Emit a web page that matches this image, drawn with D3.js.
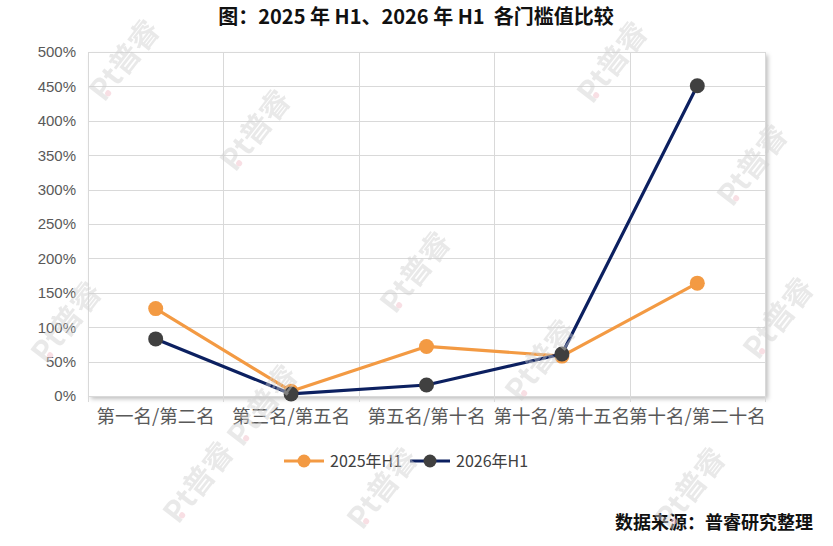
<!DOCTYPE html>
<html>
<head>
<meta charset="utf-8">
<script src="https://cdn.jsdelivr.net/npm/d3@7"></script>
<style>
  body { margin: 0; background: #fff; }
  svg { display: block; }
</style>
</head>
<body>
<svg id="chart"></svg>
<script>
const categories = ['第一名/第二名', '第三名/第五名', '第五名/第十名', '第十名/第十五名', '第十名/第二十名']
const h1_2025 = [1.27, 0.07, 0.72, 0.58, 1.64]
const h1_2026 = [0.83, 0.03, 0.16, 0.61, 4.51]
const yTicks = [0, 0.5, 1, 1.5, 2, 2.5, 3, 3.5, 4, 4.5, 5]
const seriesNames = ['2025年H1', '2026年H1']

// watermark spots (decoration only)
const marks = [[124, 60], [612, 62], [255, 130], [752, 165], [66, 322], [415, 272], [540, 360], [198, 482], [690, 488], [382, 488], [262, 405], [778, 318]]

const W = 833, H = 546
const m = { l: 88, r: 765, t: 52, b: 396 }
const cjk = '"Noto Sans CJK SC", "Noto Sans", sans-serif'

const svg = d3.select('#chart').attr('width', W).attr('height', H)

const defs = svg.append('defs')
const f = defs.append('filter').attr('id', 'sh').attr('x', '-5%').attr('y', '-5%').attr('width', '110%').attr('height', '110%')
f.append('feDropShadow').attr('dx', 3).attr('dy', 3).attr('stdDeviation', 2)
    .attr('flood-color', '#000').attr('flood-opacity', 0.25)

svg.append('rect').attr('width', W).attr('height', H).attr('fill', '#fff')

const x = d3.scaleBand().domain(categories).range([m.l, m.r]).padding(0)
const y = d3.scaleLinear().domain([0, 5]).range([m.b, m.t])

// plot area with shadow
svg.append('rect')
    .attr('x', m.l).attr('y', m.t)
    .attr('width', m.r - m.l).attr('height', m.b - m.t)
    .attr('fill', '#fff')
    .attr('filter', 'url(#sh)')

// horizontal grid
svg.append('g').selectAll('line').data(yTicks).enter()
    .append('line')
    .attr('x1', m.l).attr('x2', m.r)
    .attr('y1', d => Math.round(y(d)) + 0.5).attr('y2', d => Math.round(y(d)) + 0.5)
    .attr('stroke', '#d9d9d9').attr('stroke-width', 1)

// vertical grid at band edges
const edges = categories.map(c => x(c)).concat([m.r])
svg.append('g').selectAll('line').data(edges).enter()
    .append('line')
    .attr('x1', d => Math.round(d) + 0.5).attr('x2', d => Math.round(d) + 0.5)
    .attr('y1', m.t).attr('y2', m.b + 6)
    .attr('stroke', '#d9d9d9').attr('stroke-width', 1)

// y axis labels
const yAxis = svg.append('g')
    .attr('transform', `translate(${m.l},0)`)
    .call(d3.axisLeft(y).tickValues(yTicks).tickSize(0).tickPadding(12)
        .tickFormat(d => Math.round(d * 100) + '%'))
yAxis.select('.domain').remove()
yAxis.selectAll('text')
    .attr('fill', '#595959')
    .style('font-family', '"Liberation Sans", Arial, sans-serif')
    .style('font-size', '15px')

// x axis labels
const xAxis = svg.append('g')
    .attr('transform', `translate(0,${m.b})`)
    .call(d3.axisBottom(x).tickSize(0).tickPadding(14))
xAxis.select('.domain').remove()
xAxis.selectAll('text')
    .attr('fill', '#595959')
    .style('font-family', cjk)
    .style('font-size', '18.5px')

const cx = i => x(categories[i]) + x.bandwidth() / 2
const line = d3.line().x((d, i) => cx(i)).y(d => y(d))

const series = [
    { vals: h1_2025, stroke: '#f39a43', dot: '#f39a43' },
    { vals: h1_2026, stroke: '#0c2060', dot: '#404040' }
]

series.forEach(s => {
    svg.append('path')
        .datum(s.vals)
        .attr('d', line)
        .attr('fill', 'none')
        .attr('stroke', s.stroke)
        .attr('stroke-width', 3.2)
        .attr('stroke-linejoin', 'round')
    svg.append('g').selectAll('circle').data(s.vals).enter()
        .append('circle')
        .attr('cx', (d, i) => cx(i))
        .attr('cy', d => y(d))
        .attr('r', 7.5)
        .attr('fill', s.dot)
})

// title
svg.append('text')
    .attr('x', 416).attr('y', 24)
    .attr('text-anchor', 'middle')
    .style('font-family', cjk)
    .style('font-size', '20px')
    .style('font-weight', 'bold')
    .style('white-space', 'pre')
    .attr('fill', '#111')
    .text('图：2025 年 H1、2026 年 H1  各门槛值比较')

// legend
const lg = [{ x0: 284, tx: 330 }, { x0: 410, tx: 456 }]
lg.forEach((p, i) => {
    const g = svg.append('g')
    g.append('line')
        .attr('x1', p.x0).attr('x2', p.x0 + 40)
        .attr('y1', 461).attr('y2', 461)
        .attr('stroke', series[i].stroke).attr('stroke-width', 3.2)
    g.append('circle')
        .attr('cx', p.x0 + 20).attr('cy', 461).attr('r', 6.5)
        .attr('fill', series[i].dot)
    g.append('text')
        .attr('x', p.tx).attr('y', 467)
        .style('font-family', cjk)
        .style('font-size', '16px')
        .attr('fill', '#404040')
        .text(seriesNames[i])
})

// source note
svg.append('text')
    .attr('x', 813).attr('y', 529)
    .attr('text-anchor', 'end')
    .style('font-family', cjk)
    .style('font-size', '18px')
    .style('font-weight', 'bold')
    .attr('fill', '#111')
    .text('数据来源：普睿研究整理')

// faint watermarks
const wm = svg.append('g').attr('pointer-events', 'none')
marks.forEach(p => {
    const g = wm.append('g').attr('transform', `translate(${p[0]},${p[1]}) rotate(-52)`)
    g.append('circle').attr('cx', -36).attr('cy', 8).attr('r', 3).attr('fill', '#f4c9d2').attr('opacity', 0.6)
    g.append('text')
        .attr('x', 0).attr('y', 11)
        .attr('text-anchor', 'middle')
        .style('font-family', cjk)
        .style('font-size', '30px')
        .style('font-weight', 'bold')
        .attr('fill', '#cfcfcf')
        .attr('opacity', 0.45)
        .text('Pt普睿')
})
</script>
</body>
</html>
